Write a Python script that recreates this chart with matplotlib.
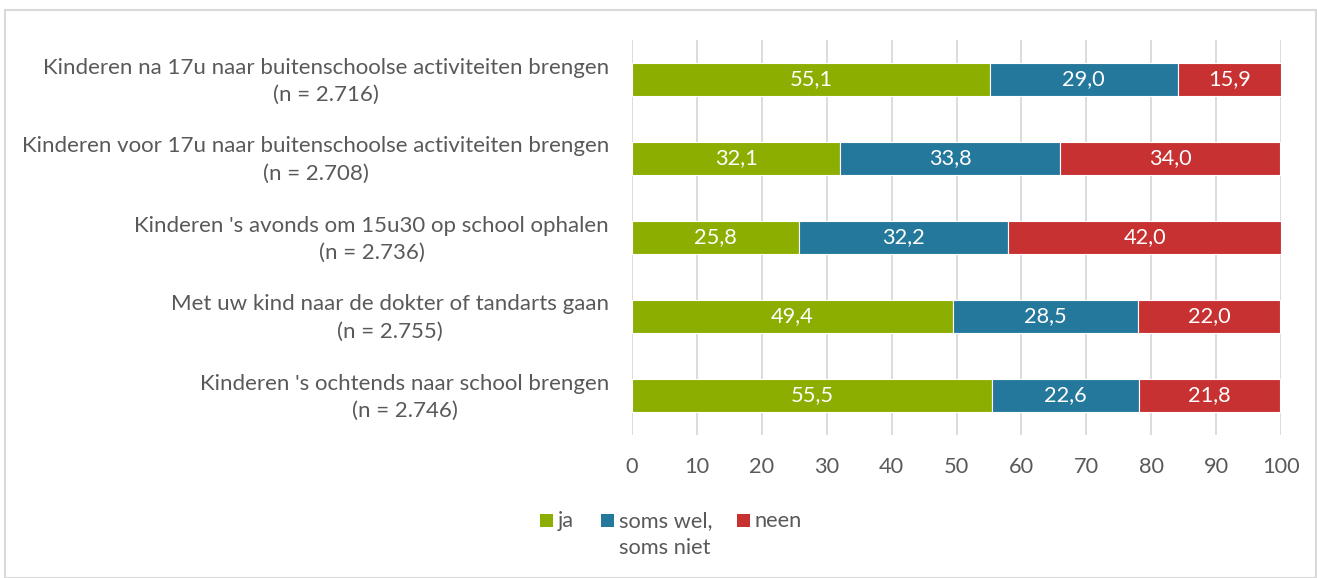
import matplotlib
matplotlib.use("Agg")
import matplotlib.pyplot as plt
import matplotlib.transforms as mtransforms
from matplotlib.patches import Rectangle

categories = [
    "Kinderen na 17u naar buitenschoolse activiteiten brengen\n(n = 2.716)",
    "Kinderen voor 17u naar buitenschoolse activiteiten brengen\n(n = 2.708)",
    "Kinderen 's avonds om 15u30 op school ophalen\n(n = 2.736)",
    "Met uw kind naar de dokter of tandarts gaan\n(n = 2.755)",
    "Kinderen 's ochtends naar school brengen\n(n = 2.746)",
]
ja = [55.1, 32.1, 25.8, 49.4, 55.5]
soms = [29.0, 33.8, 32.2, 28.5, 22.6]
neen = [15.9, 34.0, 42.0, 22.0, 21.8]
series_names = ["ja", "soms wel,\nsoms niet", "neen"]
colors = ["#8CAE00", "#24789C", "#C83132"]
xticks = [0, 10, 20, 30, 40, 50, 60, 70, 80, 90, 100]

plt.rcParams['font.family'] = ['Lato', 'DejaVu Sans']
txt = "#595959"
fs = 15.7

W, H = 1317, 578
fig = plt.figure(figsize=(W/100, H/100), dpi=100)
fig.patches.append(Rectangle((5/W, 0), 1311/W, 1 - 10/H, transform=fig.transFigure,
                             fill=False, edgecolor="#D9D9D9", linewidth=1.5))
ax = fig.add_axes([632/W, 1 - 435/H, 649/W, 395/H])

ypos = list(range(len(categories)))
left = [0]*len(categories)
for vals, name, c in zip([ja, soms, neen], series_names, colors):
    ax.barh(ypos, vals, left=left, height=0.41, color=c, edgecolor="white",
            linewidth=0.8, label=name, zorder=3)
    for y, v, l in zip(ypos, vals, left):
        ax.text(l + v/2, y, f"{v:.1f}".replace(".", ","), ha="center", va="center",
                color="white", fontsize=fs, zorder=4)
    left = [a + b for a, b in zip(left, vals)]

ax.set_ylim(len(categories) - 0.5, -0.5)
ax.set_xlim(0, 100)
ax.set_xticks(xticks)
ax.set_xticklabels([str(t) for t in xticks], fontsize=fs, color=txt)
ax.set_yticks(ypos)
ax.set_yticklabels(categories, fontsize=16, color=txt, ha="right",
                   multialignment="center", linespacing=1.45)
ax.tick_params(axis="y", length=0, pad=16.5)
ax.tick_params(axis="x", length=0, pad=16)
shift = mtransforms.ScaledTranslation(0, 4/100, fig.dpi_scale_trans)
for lab in ax.get_yticklabels():
    lab.set_transform(lab.get_transform() + shift)
ax.grid(axis="x", color="#D9D9D9", linewidth=1.3, zorder=0)
for s in ax.spines.values():
    s.set_visible(False)

# legend drawn manually so the square aligns with the first text line
leg_x = [540, 601, 737]
for x, name, c in zip(leg_x, series_names, colors):
    fig.patches.append(Rectangle((x/W, 1 - 527/H), 13/W, 13/H, transform=fig.transFigure,
                                 facecolor=c, edgecolor="none"))
    fig.text((x + 18)/W, 1 - 511/H, name, fontsize=fs, color=txt, ha="left", va="top",
             linespacing=1.45)

fig.savefig("out.png", dpi=100)
